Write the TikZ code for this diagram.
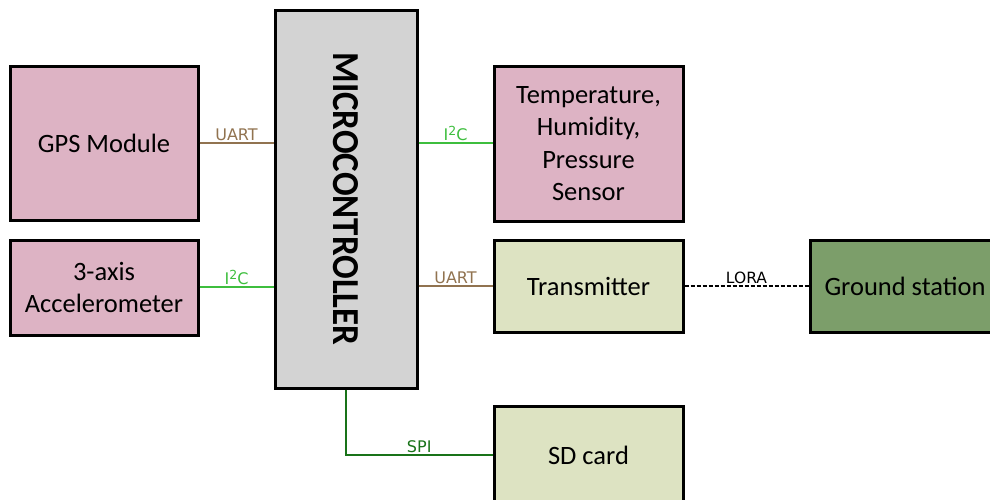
\documentclass[tikz,border=0pt]{standalone}
\usepackage{fontspec}
\setmainfont{Carlito}
\newfontfamily\lblfont{DejaVu Sans}
\usepackage{tikz}
\usetikzlibrary{positioning,calc}
\usepackage{xcolor}
\definecolor{modpink}{RGB}{221,179,196}
\definecolor{modlgreen}{RGB}{221,227,194}
\definecolor{moddgreen}{RGB}{124,158,106}
\definecolor{mcugray}{RGB}{211,211,211}
\definecolor{uartbrown}{RGB}{145,115,80}
\definecolor{iicgreen}{RGB}{62,190,62}
\definecolor{spigreen}{RGB}{25,115,25}
\newcommand{\iic}{I\raisebox{0.5ex}{\fontsize{12.5}{12.5}\selectfont 2}C}

\begin{document}
\begin{tikzpicture}[x=1pt,y=-1pt,
 blk/.style={draw,line width=3pt,align=center,inner sep=0pt,font=\fontsize{26.5}{32.5}\selectfont},
 lbl/.style={font=\lblfont\fontsize{16}{16}\selectfont,inner sep=1.5pt,above},
 bus/.style={line width=2.5pt}]
\useasboundingbox (0,0) rectangle (990,499);
\clip (0,0) rectangle (990,499);
% microcontroller in the middle
\node[blk,fill=mcugray,minimum width=142pt,minimum height=378pt] (mcu) at (346,199) {};
\node[rotate=-90] (mcutxt) at (mcu.center) {\resizebox{293pt}{25pt}{\bfseries MICROCONTROLLER}};
% sensors
\node[blk,fill=modpink,minimum width=188pt,minimum height=154pt] (gps) at (104,143) {GPS Module};
\node[blk,fill=modpink,minimum width=188pt,minimum height=95pt] (acc) at (104,287.5) {3-axis\\Accelerometer};
\node[blk,fill=modpink,minimum width=189pt,minimum height=155pt] (env) at (588.5,143.5) {Temperature,\\Humidity,\\Pressure\\Sensor};
% radio and storage
\node[blk,fill=modlgreen,minimum width=189pt,minimum height=92pt] (tx) at (588.5,286) {Transmitter};
\node[blk,fill=moddgreen,minimum width=190pt,minimum height=92pt] (gnd) at (905,286) {Ground station};
\node[blk,fill=modlgreen,minimum width=189pt,minimum height=98pt] (sd) at (588.5,455) {SD card};
% buses
\draw[bus,uartbrown] (gps.east|-0,143) -- node[lbl,text=uartbrown] {UART} (mcu.west|-0,143);
\draw[bus,iicgreen] (acc.east|-0,287) -- node[lbl,text=iicgreen] {\iic} (mcu.west|-0,287);
\draw[bus,iicgreen] (mcu.east|-0,143) -- node[lbl,text=iicgreen] {\iic} (env.west|-0,143);
\draw[bus,uartbrown] (mcu.east|-0,286) -- node[lbl,text=uartbrown] {UART} (tx.west);
\draw[line width=2pt,dash pattern=on 4pt off 2pt] (tx.east) -- node[lbl,font=\lblfont\fontsize{15.5}{15.5}\selectfont] {LORA} (gnd.west);
\draw[bus,spigreen] (mcu.south) |- node[lbl,pos=0.75,text=spigreen] {SPI} (sd.west);
\end{tikzpicture}
\end{document}
